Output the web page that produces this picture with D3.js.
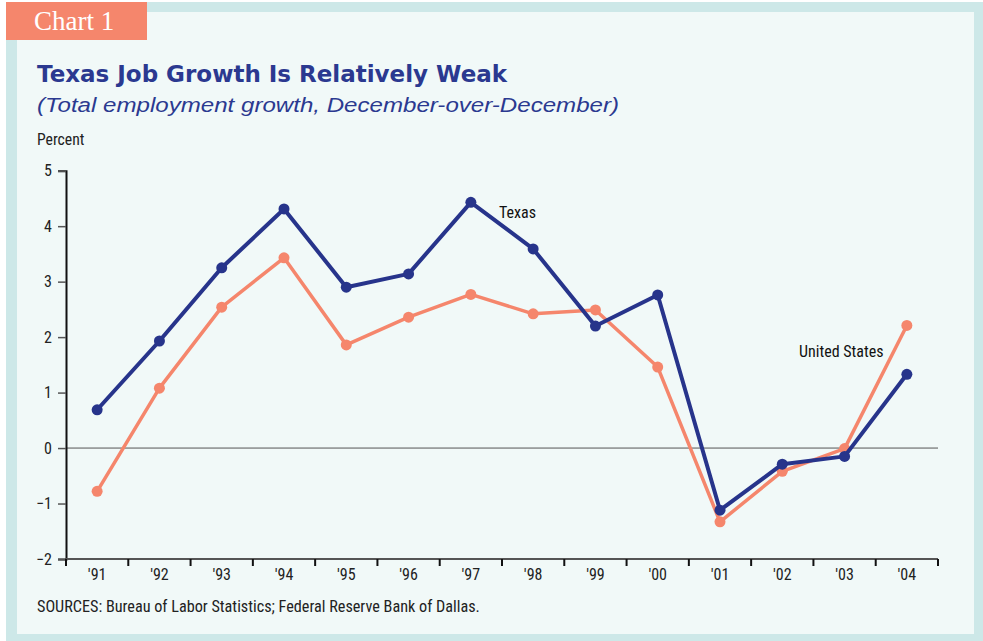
<!DOCTYPE html>
<html>
<head>
<meta charset="utf-8">
<script src="https://d3js.org/d3.v7.min.js"></script>
<style>
  body { margin: 0; background: #fff; }
  .cond { font-family: "Liberation Sans Narrow", "Arial Narrow", "Roboto Condensed", "Liberation Sans", sans-serif; }
</style>
</head>
<body>
<div id="chart"></div>
<script>
  // data
  const years = ["'91", "'92", "'93", "'94", "'95", "'96", "'97", "'98", "'99", "'00", "'01", "'02", "'03", "'04"];
  const texas = [0.69, 1.93, 3.25, 4.31, 2.90, 3.14, 4.43, 3.59, 2.20, 2.76, -1.12, -0.29, -0.15, 1.33];
  const us = [-0.78, 1.08, 2.54, 3.43, 1.86, 2.36, 2.77, 2.42, 2.49, 1.46, -1.33, -0.42, -0.01, 2.21];
  const yTicks = [-2, -1, 0, 1, 2, 3, 4, 5];

  const W = 983, H = 641;
  const navy = "#27348b", salmon = "#f5866c";

  const svg = d3.select("#chart").append("svg")
    .attr("width", W).attr("height", H);

  // frame
  svg.append("rect").attr("x", 6).attr("y", 2).attr("width", W - 6).attr("height", H - 2).attr("fill", "#cde8e8");
  svg.append("rect").attr("x", 17).attr("y", 12).attr("width", 957).attr("height", 622).attr("fill", "#f1f9f8");
  svg.append("rect").attr("x", 6).attr("y", 2).attr("width", 141).attr("height", 38).attr("fill", salmon);
  svg.append("text").attr("x", 34).attr("y", 30)
    .attr("fill", "#fff").attr("font-family", "Liberation Serif, serif").attr("font-size", 27)
    .text("Chart  1");

  svg.append("text").attr("x", 37).attr("y", 82)
    .attr("fill", "#2b3990").attr("font-family", "DejaVu Sans, sans-serif").attr("font-weight", "bold")
    .attr("font-size", 23).text("Texas Job Growth Is Relatively Weak");
  svg.append("text").attr("x", 37).attr("y", 112)
    .attr("fill", "#2b3990").attr("font-family", "Liberation Sans, sans-serif").attr("font-style", "italic")
    .attr("font-size", 20).attr("textLength", 582).attr("lengthAdjust", "spacingAndGlyphs")
    .text("(Total employment growth, December-over-December)");
  svg.append("text").attr("class", "cond").attr("x", 37).attr("y", 145)
    .attr("fill", "#222").attr("font-size", 15.7).text("Percent");

  const plotL = 66, plotR = 938, plotT = 170.7, plotB = 559;

  const x = d3.scaleBand().domain(years).range([plotL, plotR]);
  const y = d3.scaleLinear().domain([-2, 5]).range([plotB, plotT]);

  // zero line
  svg.append("line").attr("x1", plotL).attr("x2", plotR).attr("y1", y(0)).attr("y2", y(0))
    .attr("stroke", "#555").attr("stroke-width", 1);

  // y axis
  const yAxis = svg.append("g").attr("transform", `translate(${plotL},0)`)
    .call(d3.axisLeft(y).tickValues(yTicks).tickSize(8).tickPadding(6)
      .tickFormat(d => d < 0 ? "\u2212" + Math.abs(d) : d));
  yAxis.select(".domain").attr("stroke", "#111").attr("stroke-width", 2);
  yAxis.selectAll(".tick line").attr("stroke", "#555").attr("stroke-width", 1.5);
  yAxis.selectAll("text").attr("class", "cond").attr("font-size", 16).attr("fill", "#222");

  // x axis, ticks at band edges
  const xg = svg.append("g").attr("transform", `translate(0,${plotB})`);
  xg.append("line").attr("x1", plotL).attr("x2", plotR).attr("stroke", "#555").attr("stroke-width", 2);
  const edges = years.map(d => x(d)).concat([plotR]);
  xg.selectAll("line.tk").data(edges).join("line").attr("class", "tk")
    .attr("x1", d => d).attr("x2", d => d).attr("y1", 0).attr("y2", 7)
    .attr("stroke", "#111").attr("stroke-width", 2);
  xg.selectAll("text").data(years).join("text").attr("class", "cond")
    .attr("x", d => x(d) + x.bandwidth() / 2).attr("y", 21)
    .attr("text-anchor", "middle").attr("font-size", 16).attr("fill", "#222")
    .text(d => d);

  const line = d3.line().x((d, i) => x(years[i]) + x.bandwidth() / 2).y(d => y(d));

  function series(vals, color, w) {
    svg.append("path").datum(vals).attr("d", line)
      .attr("fill", "none").attr("stroke", color).attr("stroke-width", w).attr("stroke-linejoin", "round");
    svg.selectAll(null).data(vals).join("circle")
      .attr("cx", (d, i) => x(years[i]) + x.bandwidth() / 2).attr("cy", d => y(d))
      .attr("r", 5.5).attr("fill", color);
  }
  series(us, salmon, 3.5);
  series(texas, navy, 4);

  svg.append("text").attr("class", "cond").attr("x", 499).attr("y", 218)
    .attr("font-size", 16).attr("fill", "#111").text("Texas");
  svg.append("text").attr("class", "cond").attr("x", 799).attr("y", 357)
    .attr("font-size", 16).attr("fill", "#111").text("United States");

  svg.append("text").attr("class", "cond").attr("x", 37).attr("y", 612)
    .attr("font-size", 16.2).attr("fill", "#222")
    .text("SOURCES: Bureau of Labor Statistics; Federal Reserve Bank of Dallas.");
</script>
</body>
</html>
